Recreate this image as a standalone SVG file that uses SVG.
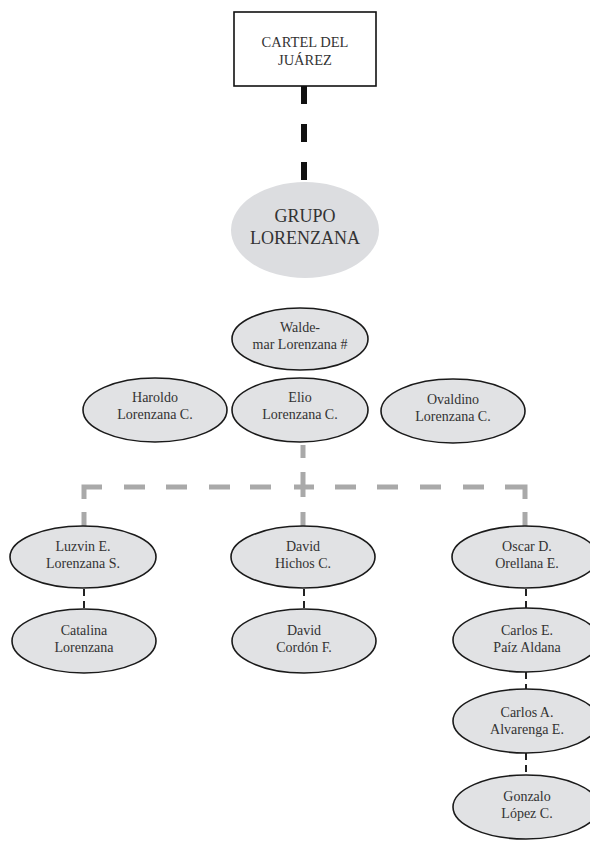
<svg xmlns="http://www.w3.org/2000/svg" width="590" height="844" viewBox="0 0 590 844">
<style>
text{font-family:"Liberation Serif","DejaVu Serif",serif;fill:#333;text-anchor:middle}
.n{fill:#e1e2e4;stroke:#1a1a1a;stroke-width:1.6}
.t{font-size:14px}
.g{fill:none;stroke:#a9a9a9;stroke-width:5}
.k{fill:none;stroke:#222;stroke-width:2;stroke-dasharray:7 5}
</style>
<rect width="590" height="844" fill="#fff"/>
<g id="connectors">
<path d="M304,86 V182" fill="none" stroke="#111" stroke-width="6" stroke-dasharray="18 20"/>
<path class="g" d="M303,445 V458 M303,472 V497 M303,512 V527 M84,499 V487 H102 M84,512 V526 M124,487 H145 M166,487 H187 M209,487 H230 M250,487 H271 M294,487 H314 M335,487 H356 M377,487 H398 M420,487 H441 M463,487 H484 M505,487 H525 V499 M525,512 V526"/>
<path class="k" d="M84,589 V610"/>
<path class="k" d="M304,589 V610"/>
<path class="k" d="M526,589 V609"/>
<path class="k" d="M526,672 V690"/>
<path class="k" d="M526,753 V775"/>
</g>
<g id="cartel">
<rect x="234" y="12" width="142" height="74" fill="#fff" stroke="#111" stroke-width="1.6"/>
<text x="305" y="47" font-size="14.5">CARTEL DEL</text>
<text x="305" y="65" font-size="14.5">JUÁREZ</text>
</g>
<g id="grupo">
<ellipse cx="305" cy="230" rx="74" ry="48" fill="#dcdde0"/>
<text x="305" y="222" font-size="18">GRUPO</text>
<text x="305" y="244" font-size="18">LORENZANA</text>
</g>
<g id="waldemar">
<ellipse class="n" cx="300" cy="339" rx="68" ry="31"/>
<text class="t" x="300" y="332">Walde-</text>
<text class="t" x="300" y="349">mar Lorenzana #</text>
</g>
<g id="haroldo">
<ellipse class="n" cx="155" cy="410" rx="72" ry="32"/>
<text class="t" x="155" y="402">Haroldo</text>
<text class="t" x="155" y="419">Lorenzana C.</text>
</g>
<g id="elio">
<ellipse class="n" cx="300" cy="410" rx="68" ry="32"/>
<text class="t" x="300" y="402">Elio</text>
<text class="t" x="300" y="419">Lorenzana C.</text>
</g>
<g id="ovaldino">
<ellipse class="n" cx="453" cy="411" rx="72" ry="32"/>
<text class="t" x="453" y="404">Ovaldino</text>
<text class="t" x="453" y="421">Lorenzana C.</text>
</g>
<g id="luzvin">
<ellipse class="n" cx="83" cy="557" rx="73" ry="31"/>
<text class="t" x="83" y="551">Luzvin E.</text>
<text class="t" x="83" y="568">Lorenzana S.</text>
</g>
<g id="david-hichos">
<ellipse class="n" cx="303" cy="557" rx="72" ry="31"/>
<text class="t" x="303" y="551">David</text>
<text class="t" x="303" y="568">Hichos C.</text>
</g>
<g id="oscar">
<ellipse class="n" cx="525" cy="557" rx="73" ry="31"/>
<text class="t" x="527" y="551">Oscar D.</text>
<text class="t" x="527" y="568">Orellana E.</text>
</g>
<g id="catalina">
<ellipse class="n" cx="84" cy="641" rx="72" ry="32"/>
<text class="t" x="84" y="635">Catalina</text>
<text class="t" x="84" y="652">Lorenzana</text>
</g>
<g id="david-cordon">
<ellipse class="n" cx="304" cy="641" rx="72" ry="32"/>
<text class="t" x="304" y="635">David</text>
<text class="t" x="304" y="652">Cordón F.</text>
</g>
<g id="carlos-e">
<ellipse class="n" cx="526" cy="640" rx="73" ry="32"/>
<text class="t" x="527" y="635">Carlos E.</text>
<text class="t" x="527" y="652">Paíz Aldana</text>
</g>
<g id="carlos-a">
<ellipse class="n" cx="526" cy="721" rx="73" ry="32"/>
<text class="t" x="527" y="717">Carlos A.</text>
<text class="t" x="527" y="734">Alvarenga E.</text>
</g>
<g id="gonzalo">
<ellipse class="n" cx="526" cy="807" rx="73" ry="32"/>
<text class="t" x="527" y="801">Gonzalo</text>
<text class="t" x="527" y="818">López C.</text>
</g>
</svg>
